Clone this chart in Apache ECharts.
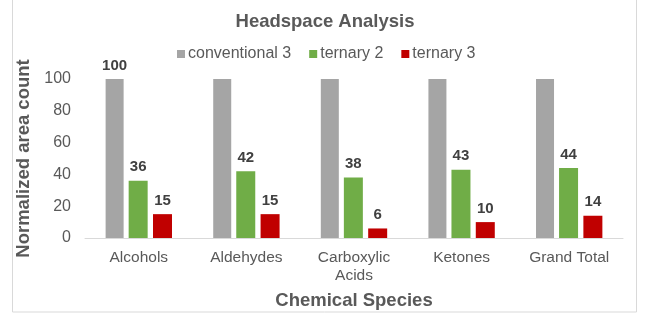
<!DOCTYPE html>
<html><head><meta charset="utf-8">
<script src="https://cdn.jsdelivr.net/npm/echarts@6/dist/echarts.min.js"></script>
<style>html,body{margin:0;padding:0;background:#fff}#c{width:652px;height:325px}</style>
</head><body><div id="c"></div>
<script>
const categories = ['Alcohols', 'Aldehydes', 'Carboxylic\nAcids', 'Ketones', 'Grand Total'];
const conventional3 = [100, 100, 100, 100, 100];
const ternary2 = [36, 42, 38, 43, 44];
const ternary3 = [15, 15, 6, 10, 14];
const seriesNames = ['conventional 3', 'ternary 2', 'ternary 3'];

const chart = echarts.init(document.getElementById('c'));
const F = 'Liberation Sans, Arial, sans-serif';
const lbl = {show: true, position: 'top', distance: 6, fontFamily: F, fontSize: 15, fontWeight: 'bold', color: '#404040'};
chart.setOption({
  animation: false,
  graphic: [{type: 'rect', shape: {x: 12.5, y: -1, width: 624, height: 313}, style: {fill: 'none', stroke: '#d9d9d9', lineWidth: 1}}],
  title: {text: 'Headspace Analysis', left: 320, top: 7, textAlign: 'center',
    textStyle: {fontFamily: F, fontSize: 18.5, fontWeight: 'bold', color: '#595959'}},
  legend: {top: 41, left: 172, itemWidth: 8, itemHeight: 8, itemGap: 18, icon: 'rect',
    textStyle: {fontFamily: F, fontSize: 16, color: '#595959', padding: [0, 0, 0, -2]},
    data: seriesNames},
  grid: {left: 85, right: 29, top: 79, bottom: 87},
  xAxis: {type: 'category', data: categories,
    name: 'Chemical Species', nameLocation: 'middle', nameGap: 53,
    nameTextStyle: {fontFamily: F, fontSize: 18.5, fontWeight: 'bold', color: '#595959'},
    axisLine: {lineStyle: {color: '#d9d9d9'}}, axisTick: {show: false},
    axisLabel: {fontFamily: F, fontSize: 15.5, color: '#595959', margin: 11, lineHeight: 18}},
  yAxis: {type: 'value', min: 0, max: 100, interval: 20,
    name: 'Normalized area count', nameLocation: 'middle', nameGap: 42,
    nameTextStyle: {fontFamily: F, fontSize: 18.5, fontWeight: 'bold', color: '#595959'},
    axisLine: {show: false}, axisTick: {show: false}, splitLine: {show: false},
    axisLabel: {fontFamily: F, fontSize: 16, color: '#595959', margin: 14}},
  series: [
    {name: seriesNames[0], type: 'bar', data: conventional3, barWidth: 18, barGap: '28%',
      itemStyle: {color: '#A5A5A5'},
      label: Object.assign({}, lbl, {formatter: p => p.dataIndex === 0 ? p.value : ''})},
    {name: seriesNames[1], type: 'bar', data: ternary2, barWidth: 19, itemStyle: {color: '#70AD47'}, label: lbl},
    {name: seriesNames[2], type: 'bar', data: ternary3, barWidth: 19, itemStyle: {color: '#C00000'}, label: lbl}
  ]
});
</script></body></html>
